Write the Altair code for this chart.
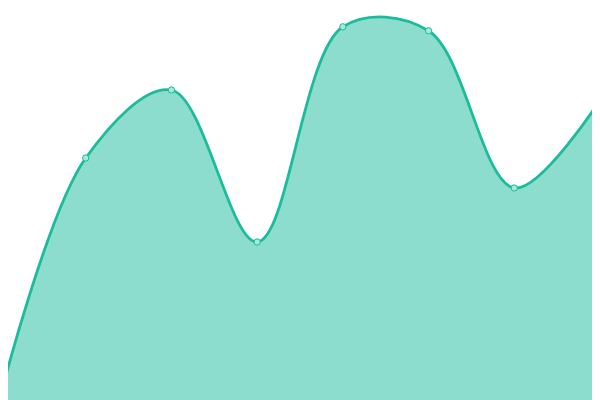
import altair as alt
import pandas as pd

xs = [0, 1, 2, 3, 4, 5, 6, 7]
values = [0.6, 60.5, 77.5, 39.5, 93.3, 92.3, 53.0, 75.0]

df = pd.DataFrame({"x": xs, "v": values})

x_enc = alt.X("x:Q", axis=None, scale=alt.Scale(domain=[4088 / 43800, 74 * 4088 / 43800], nice=False, zero=False))
y_enc = alt.Y("v:Q", axis=None, scale=alt.Scale(domain=[0, 98], nice=False))

base = alt.Chart(df).encode(x=x_enc, y=y_enc)

area = base.mark_area(
    interpolate="catmull-rom",
    color="#1abc9c",
    fillOpacity=0.5,
    line={"color": "#1abc9c", "strokeWidth": 2.8},
    clip=True,
)

points = base.mark_point(
    filled=True,
    size=40,
    fill="#a3e9dc",
    stroke="#1abc9c",
    strokeWidth=1,
    opacity=1,
    clip=True,
)

chart = (
    alt.layer(area, points)
    .properties(width=584, height=392, padding=0, autosize=alt.AutoSizeParams(type="none"))
    .configure_view(strokeWidth=0)
)

chart.save("out.html", embed_options={"renderer": "svg", "actions": False})
